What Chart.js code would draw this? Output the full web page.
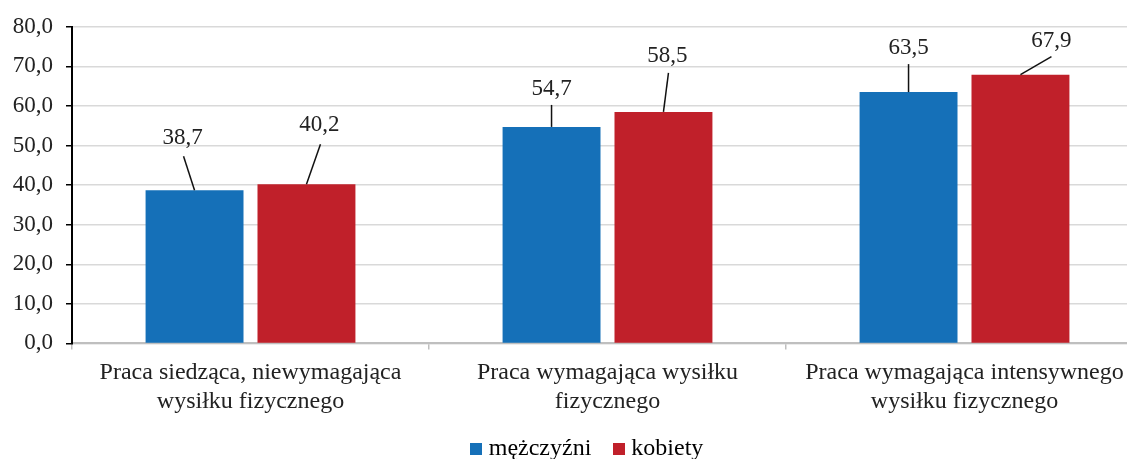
<!DOCTYPE html>
<html lang="pl">
<head>
<meta charset="utf-8">
<title>Wysiłek fizyczny w pracy</title>
<script src="https://cdn.jsdelivr.net/npm/chart.js@4.4.1/dist/chart.umd.min.js"></script>
<style>
  html, body { margin: 0; padding: 0; background: #fff; overflow: hidden; }
  #wrap { width: 1143px; height: 459px; }
</style>
</head>
<body>
<div id="wrap"><canvas id="myChart" width="1143" height="459"></canvas></div>
<script>
const categories = [
  ['Praca siedząca, niewymagająca', 'wysiłku fizycznego'],
  ['Praca wymagająca wysiłku', 'fizycznego'],
  ['Praca wymagająca intensywnego', 'wysiłku fizycznego']
];
const seriesNames = ['mężczyźni', 'kobiety'];
const men = [38.7, 54.7, 63.5];
const women = [40.2, 58.5, 67.9];
const yMax = 80;
const yStep = 10;

const colors = ['#1570B8', '#C0202A'];
const serif = "'Liberation Serif', 'Times New Roman', serif";
const textColor = '#222';

// label position relative to the top of each bar: [label dx, label dy, line end dx, line end dy]
const callouts = [
  [[-12, -52, -11, -34], [0, -38, 0, -22], [0, -44, 0, -28]],
  [[13, -59, 14, -40], [4, -56, 5, -39], [31, -34, 31, -18]]
];

const fmt = v => v.toFixed(1).replace('.', ',');

// small square used as the legend marker
function swatch(color) {
  const c = document.createElement('canvas');
  c.width = 12;
  c.height = 12;
  const g = c.getContext('2d');
  g.fillStyle = color;
  g.fillRect(0, 0, 12, 12);
  return c;
}

const calloutLabels = {
  id: 'calloutLabels',
  beforeDraw(chart) {
    // nudge the legend a bit right / up
    const lg = chart.legend;
    lg.left += 18;
    lg.right += 18;
    lg.top -= 15;
  },
  afterDatasetsDraw(chart) {
    const ctx = chart.ctx;
    ctx.save();
    ctx.font = '23px ' + serif;
    ctx.textAlign = 'center';
    ctx.textBaseline = 'middle';
    chart.data.datasets.forEach((ds, i) => {
      const meta = chart.getDatasetMeta(i);
      meta.data.forEach((bar, j) => {
        const [lx, ly, ex, ey] = callouts[i][j];
        ctx.strokeStyle = '#111';
        ctx.lineWidth = 1.5;
        ctx.beginPath();
        ctx.moveTo(bar.x, bar.y);
        ctx.lineTo(bar.x + ex, bar.y + ey);
        ctx.stroke();
        ctx.fillStyle = textColor;
        ctx.fillText(fmt(ds.data[j]), bar.x + lx, bar.y + ly);
      });
    });
    ctx.restore();
  }
};

const ctx = document.getElementById('myChart').getContext('2d');
const myChart = new Chart(ctx, {
  type: 'bar',
  data: {
    labels: categories,
    datasets: [
      { label: seriesNames[0], data: men, backgroundColor: colors[0] },
      { label: seriesNames[1], data: women, backgroundColor: colors[1] }
    ]
  },
  options: {
    responsive: false,
    animation: false,
    categoryPercentage: 0.627,
    barPercentage: 0.875,
    layout: { padding: { left: 0, right: 0, top: 14, bottom: -27 } },
    plugins: {
      legend: {
        position: 'bottom',
        labels: {
          usePointStyle: true,
          boxWidth: 1,
          boxHeight: 12,
          padding: 27,
          color: textColor,
          font: { family: serif, size: 24 },
          generateLabels: chart => chart.data.datasets.map((ds, i) => ({
            text: ds.label,
            fillStyle: ds.backgroundColor,
            strokeStyle: ds.backgroundColor,
            lineWidth: 0,
            pointStyle: swatch(ds.backgroundColor),
            hidden: false,
            datasetIndex: i
          }))
        }
      },
      tooltip: { enabled: false }
    },
    scales: {
      x: {
        grid: {
          display: true,
          drawOnChartArea: false,
          drawTicks: true,
          tickLength: 6,
          color: '#BFBFBF',
          lineWidth: 1.5
        },
        border: { color: '#BFBFBF', width: 2 },
        ticks: {
          color: textColor,
          padding: 9,
          maxRotation: 0,
          font: { family: serif, size: 24, lineHeight: 1.2 }
        }
      },
      y: {
        min: 0,
        max: yMax,
        afterFit(scale) { scale.width = 72; },
        grid: {
          color: '#D9D9D9',
          lineWidth: 1.5,
          tickLength: 6,
          tickColor: '#000'
        },
        border: { color: '#000', width: 2 },
        ticks: {
          stepSize: yStep,
          color: textColor,
          padding: 13,
          font: { family: serif, size: 23 },
          callback: v => fmt(v)
        }
      }
    }
  },
  plugins: [calloutLabels]
});
</script>
</body>
</html>
